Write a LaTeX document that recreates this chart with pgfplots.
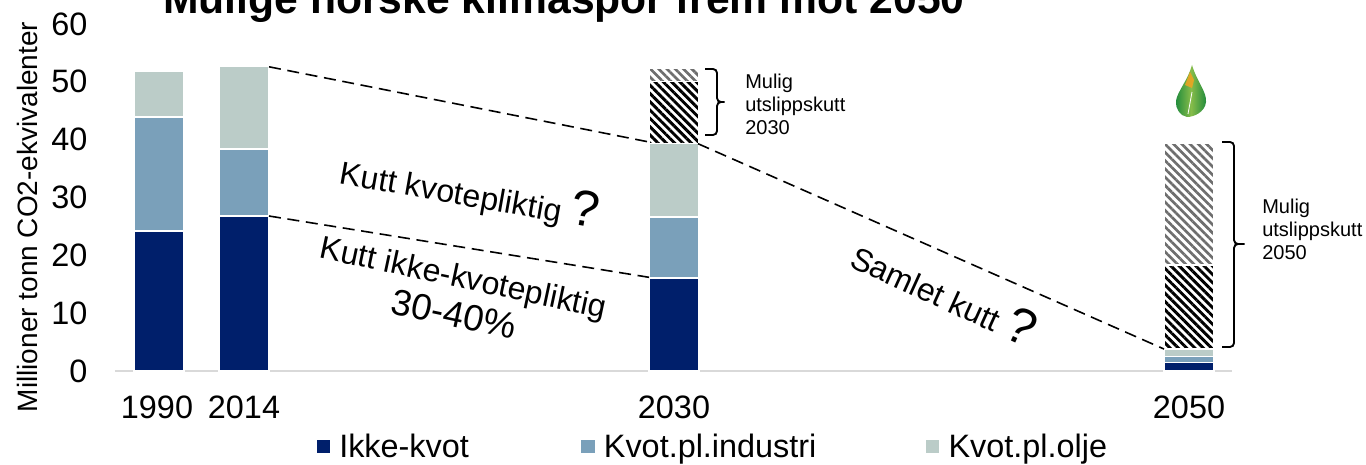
\documentclass[border=0pt]{standalone}
\usepackage{fontspec}
\setmainfont{Liberation Sans}
\usepackage{pgfplots}
\pgfplotsset{compat=1.18}
\usetikzlibrary{patterns.meta}
\definecolor{navy}{HTML}{001F6B}
\definecolor{steel}{HTML}{7AA0BA}
\definecolor{sage}{HTML}{BBCCC8}
\definecolor{hatchgray}{HTML}{6E6E6E}
\definecolor{leafdark}{HTML}{1E8A3C}
\definecolor{leaflight}{HTML}{86BC4A}
\definecolor{leaforange}{HTML}{F2A31F}
\newcommand{\fs}[1]{\fontsize{#1}{#1}\selectfont}
\pgfplotsset{
  frame/.style={
    scale only axis, width=837.75pt, height=260.25pt,
    xmin=115, xmax=1232, ymin=0, ymax=60,
  },
  gap/.style={line width=1.2pt, dash pattern=on 9pt off 5pt, black, forget plot},
}
\begin{document}
\begin{tikzpicture}
% page = reference frame in pixels
\path[use as bounding box] (-86.25pt,-69.75pt) rectangle (938.25pt,278.25pt);
\clip (-86.25pt,-69.75pt) rectangle (938.25pt,278.25pt);
\begin{axis}[
  frame, at={(0,0)}, anchor=south west,
  ybar stacked, bar width=37.5pt,
  clip=false,
  axis y line=left, axis x line=bottom,
  y axis line style={draw=none},
  x axis line style={draw=black!15, line width=1pt, -},
  major tick style={draw=none},
  xtick={157,244,674,1189},
  xticklabels={1990,2014,2030,2050},
  ytick={0,10,...,60},
  tick label style={font=\fs{24.3}},
  /pgf/number format/assume math mode=true,
  yticklabel style={xshift=-15pt},
  xticklabel style={yshift=-13pt},
  legend columns=3,
  legend style={draw=none, fill=none, at={(147pt,-43pt)}, anchor=north west, font=\fs{24.3},
    /tikz/every odd column/.append style={column sep=4pt}},
  legend image code/.code={\fill[#1] (0pt,-5.5pt) rectangle (11pt,5.5pt);},
]
\addplot+[fill=navy, draw=white, line width=1pt] coordinates {(159,24.2)(244,26.8)(674,16.1)(1189,1.5)};
\addlegendentry{\makebox[178.5pt][l]{Ikke-kvot}}
\addplot+[fill=steel, draw=white, line width=1pt] coordinates {(159,19.7)(244,11.6)(674,10.5)(1189,1.0)};
\addlegendentry{\makebox[238.5pt][l]{Kvot.pl.industri}}
\addplot+[fill=sage, draw=white, line width=1pt] coordinates {(159,8.0)(244,14.2)(674,12.7)(1189,1.3)};
\addlegendentry{Kvot.pl.olje}
\addplot+[forget plot, draw=white, line width=1pt, fill=none,
  pattern={Lines[angle=-45,distance=4.4pt,line width=2.2pt]}, pattern color=black]
  coordinates {(159,0)(244,0)(674,10.7)(1189,14.5)};
\addplot+[forget plot, draw=white, line width=1pt, fill=none,
  pattern={Lines[angle=-45,distance=4.4pt,line width=2.0pt]}, pattern color=hatchgray]
  coordinates {(159,0)(244,0)(674,2.4)(1189,21.0)};
\end{axis}
\begin{axis}[frame, at={(0,0)}, anchor=south west, axis lines=none, clip=false]
\addplot[gap] coordinates {(269,52.6)(649,39.6)};
\addplot[gap] coordinates {(698,39.3)(1164,3.8)};
\addplot[gap] coordinates {(269,26.8)(649,16.2)};
\end{axis}
% pixel coordinates of the reference from here on
\begin{scope}[shift={(-86.25pt,278.25pt)}, x=0.75pt, y=-0.75pt]
\node[anchor=base west, inner sep=0, font=\fs{32}\bfseries] at (163,14) {Mulige norske klimaspor frem mot 2050};
\node[rotate=90, anchor=center, inner sep=0, font=\fs{21}] at (27,217) {Millioner tonn CO2-ekvivalenter};
\node[rotate=-10, font=\fs{24}, inner sep=0] at (470,192) {Kutt kvotepliktig \fs{38}?};
\node[rotate=-12, font=\fs{24}, inner sep=0] at (463,280) {Kutt ikke-kvotepliktig};
\node[rotate=-12, font=\fs{27.5}, inner sep=0] at (454,314) {30-40\%};
\node[rotate=-24.5, font=\fs{24}, inner sep=0] at (945,291) {Samlet kutt \fs{38}?};
\draw[black, line width=1.4pt, rounded corners=3pt] (705,69) -- (717,69) -- (717,102) -- (727,102) -- (717,102) -- (717,135) -- (705,135);
\draw[black, line width=1.4pt, rounded corners=3pt] (1222,142) -- (1234,142) -- (1234,244) -- (1247,244) -- (1234,244) -- (1234,347) -- (1222,347);
\node[anchor=north west, align=left, inner sep=0, font=\fs{15}] at (745,74) {\fs{15}Mulig\\[2.2pt]utslippskutt\\[2.2pt]2030};
\node[anchor=north west, align=left, inner sep=0, font=\fs{15}] at (1262,199) {\fs{15}Mulig\\[2.2pt]utslippskutt\\[2.2pt]2050};
% leaf
\shade[left color=leafdark, right color=leafdark, middle color=leaflight]
  (1192,65) .. controls (1197,82) and (1207,92) .. (1206,102)
  .. controls (1205,112) and (1194,117) .. (1187,117)
  .. controls (1180,116) and (1175,108) .. (1176,101)
  .. controls (1177,92) and (1188,80) .. (1192,65) -- cycle;
\fill[leaforange, opacity=0.85] (1190,72) -- (1194,80) -- (1192,88) -- (1185,85) -- cycle;
\draw[white, line width=0.6pt] (1192,92) -- (1188,114);
\end{scope}
\end{tikzpicture}
\end{document}
